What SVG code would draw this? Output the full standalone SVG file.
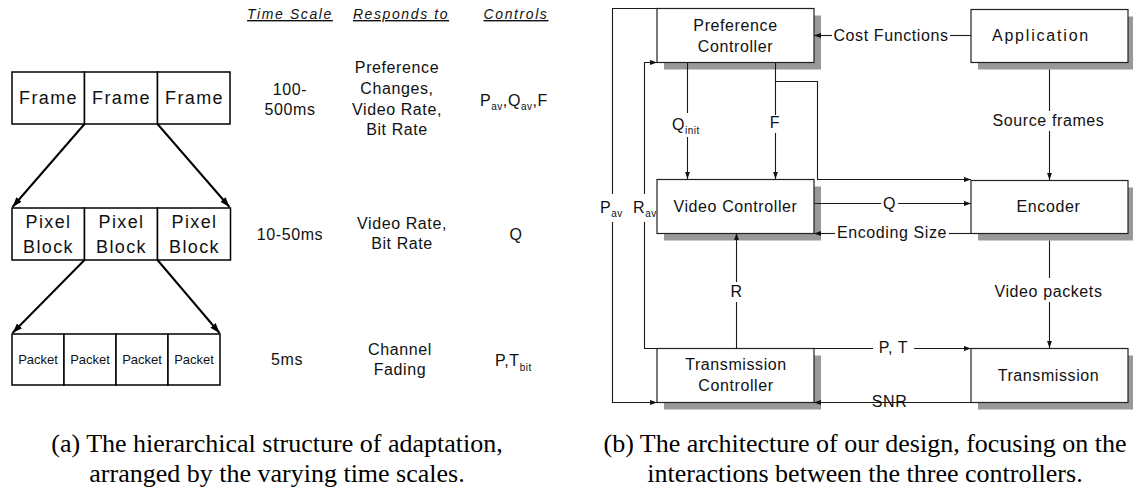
<svg xmlns="http://www.w3.org/2000/svg" width="1133" height="490" viewBox="0 0 1133 490">
  <style>
    .sans { font-family: "Liberation Sans", Arial, Helvetica, sans-serif; fill: #111; }
    .big { font-size: 18px; letter-spacing: 1.4px; text-anchor: middle; }
    .pk { font-size: 13px; text-anchor: middle; }
    .hd { font-size: 14px; font-style: italic; letter-spacing: 1.6px; text-anchor: middle; text-decoration: underline; }
    .row { font-size: 16px; letter-spacing: 0.6px; text-anchor: middle; }
    .rowl { font-size: 16px; letter-spacing: 0.6px; }
    .sub { font-size: 10px; letter-spacing: 0.5px; }
    .cap { font-family: "Liberation Serif", "Times New Roman", serif; font-size: 26px; fill: #000; text-anchor: middle; }
    .lbox { fill: #fff; stroke: #000; stroke-width: 1.5; }
    .rbox { fill: #fff; stroke: #222; stroke-width: 1.2; }
    .shadow { fill: #999; }
    .thick { fill: none; stroke: #000; stroke-width: 2; }
    .conn { fill: none; stroke: #1a1a1a; stroke-width: 1.1; }
  </style>
  <defs>
    <marker id="ah" markerUnits="userSpaceOnUse" markerWidth="8" markerHeight="6" refX="7" refY="3" orient="auto">
      <path d="M0,0.6 L7,3 L0,5.4 z" fill="#111"/>
    </marker>
    <marker id="ahL" markerUnits="userSpaceOnUse" markerWidth="11" markerHeight="8" refX="10" refY="4" orient="auto">
      <path d="M0,0.5 L10,4 L0,7.5 z" fill="#000"/>
    </marker>
  </defs>

  <rect width="1133" height="490" fill="#fff"/>

  <!-- (a) hierarchy of adaptation -->
  <g id="frames">
    <rect class="lbox" x="12" y="72" width="72.5" height="52"/>
    <rect class="lbox" x="84.5" y="72" width="73" height="52"/>
    <rect class="lbox" x="157.5" y="72" width="72.5" height="52"/>
    <text class="sans big" x="48.5" y="104">Frame</text>
    <text class="sans big" x="121.5" y="104">Frame</text>
    <text class="sans big" x="194.5" y="104">Frame</text>
  </g>
  <g id="pixel-blocks">
    <rect class="lbox" x="12" y="208" width="72.5" height="52"/>
    <rect class="lbox" x="84.5" y="208" width="73" height="52"/>
    <rect class="lbox" x="157.5" y="208" width="73" height="52"/>
    <text class="sans big" x="48.5" y="228">Pixel</text>
    <text class="sans big" x="48.5" y="253">Block</text>
    <text class="sans big" x="121.5" y="228">Pixel</text>
    <text class="sans big" x="121.5" y="253">Block</text>
    <text class="sans big" x="194.5" y="228">Pixel</text>
    <text class="sans big" x="194.5" y="253">Block</text>
  </g>
  <g id="packets">
    <rect class="lbox" x="12" y="334" width="52" height="51"/>
    <rect class="lbox" x="64" y="334" width="52" height="51"/>
    <rect class="lbox" x="116" y="334" width="52" height="51"/>
    <rect class="lbox" x="168" y="334" width="52" height="51"/>
    <text class="sans pk" x="38" y="364">Packet</text>
    <text class="sans pk" x="90" y="364">Packet</text>
    <text class="sans pk" x="142" y="364">Packet</text>
    <text class="sans pk" x="194" y="364">Packet</text>
  </g>
  <g id="hierarchy-connectors">
    <line class="thick" x1="84.5" y1="124" x2="12.5" y2="207" marker-end="url(#ahL)"/>
    <line class="thick" x1="157.5" y1="124" x2="229.5" y2="207" marker-end="url(#ahL)"/>
    <line class="thick" x1="84.5" y1="260" x2="12.5" y2="333" marker-end="url(#ahL)"/>
    <line class="thick" x1="157.5" y1="260" x2="219.5" y2="333" marker-end="url(#ahL)"/>
  </g>

  <g id="table">
    <text class="sans hd" x="290" y="19">Time Scale</text>
    <text class="sans hd" x="401" y="19">Responds to</text>
    <text class="sans hd" x="516" y="19">Controls</text>

    <text class="sans row" x="290" y="95">100-</text>
    <text class="sans row" x="290" y="115">500ms</text>
    <text class="sans row" x="397" y="73">Preference</text>
    <text class="sans row" x="397" y="94">Changes,</text>
    <text class="sans row" x="397" y="115">Video Rate,</text>
    <text class="sans row" x="397" y="135">Bit Rate</text>
    <text class="sans rowl" x="480" y="106">P<tspan class="sub" dy="4">av</tspan><tspan dy="-4">,Q</tspan><tspan class="sub" dy="4">av</tspan><tspan dy="-4">,F</tspan></text>

    <text class="sans row" x="290" y="240">10-50ms</text>
    <text class="sans row" x="402" y="229">Video Rate,</text>
    <text class="sans row" x="402" y="249">Bit Rate</text>
    <text class="sans row" x="516" y="240">Q</text>

    <text class="sans row" x="287" y="365">5ms</text>
    <text class="sans row" x="400" y="355">Channel</text>
    <text class="sans row" x="400" y="375">Fading</text>
    <text class="sans rowl" x="495" y="366">P,T<tspan class="sub" dy="5">bit</tspan></text>
  </g>

  <!-- (b) controller architecture -->
  <g id="shadows">
    <rect class="shadow" x="664" y="15.5" width="157" height="54"/>
    <rect class="shadow" x="978" y="16.5" width="157" height="53"/>
    <rect class="shadow" x="664" y="186.5" width="157" height="54"/>
    <rect class="shadow" x="978" y="187.5" width="157" height="53"/>
    <rect class="shadow" x="664" y="355.5" width="157" height="54"/>
    <rect class="shadow" x="978" y="355.5" width="157" height="54"/>
  </g>

  <g id="connectors">
    <!-- P_av: preference controller to transmission controller -->
    <path class="conn" d="M657,8.5 H612.5 V194"/>
    <path class="conn" d="M612.5,222 V402.5 H657" marker-end="url(#ah)"/>
    <!-- R_av: transmission controller to preference controller -->
    <path class="conn" d="M657,348.5 H644.5 V222"/>
    <path class="conn" d="M644.5,194 V62.5 H657" marker-end="url(#ah)"/>
    <!-- Q_init and F -->
    <path class="conn" d="M687.5,62 V113"/>
    <path class="conn" d="M687.5,137 V179" marker-end="url(#ah)"/>
    <path class="conn" d="M775.5,62 V115"/>
    <path class="conn" d="M775.5,133 V179" marker-end="url(#ah)"/>
    <path class="conn" d="M775.5,81.5 H817.5 V179.5 H971" marker-end="url(#ah)"/>
    <!-- Cost functions -->
    <path class="conn" d="M971,35.5 H950"/>
    <path class="conn" d="M832,35.5 H814" marker-end="url(#ah)"/>
    <!-- Source frames -->
    <path class="conn" d="M1049.5,69.5 V111"/>
    <path class="conn" d="M1049.5,131 V180" marker-end="url(#ah)"/>
    <!-- Q -->
    <path class="conn" d="M814,203.5 H881"/>
    <path class="conn" d="M898,203.5 H971" marker-end="url(#ah)"/>
    <!-- Encoding size -->
    <path class="conn" d="M971,233.5 H949"/>
    <path class="conn" d="M835,233.5 H814" marker-end="url(#ah)"/>
    <!-- R -->
    <path class="conn" d="M736.5,348 V302"/>
    <path class="conn" d="M736.5,282 V233" marker-end="url(#ah)"/>
    <!-- Video packets -->
    <path class="conn" d="M1049.5,240.5 V278"/>
    <path class="conn" d="M1049.5,302 V348" marker-end="url(#ah)"/>
    <!-- P, T -->
    <path class="conn" d="M657,348.5 H873"/>
    <path class="conn" d="M914,348.5 H971" marker-end="url(#ah)"/>
    <!-- SNR -->
    <path class="conn" d="M971,402.5 H874"/>
    <path class="conn" d="M905,402.5 H814" marker-end="url(#ah)"/>
  </g>

  <g id="preference-controller">
    <rect class="rbox" x="657" y="8.5" width="157" height="54"/>
    <text class="sans row" x="735.5" y="31">Preference</text>
    <text class="sans row" x="735.5" y="52">Controller</text>
  </g>
  <g id="application">
    <rect class="rbox" x="971" y="9.5" width="157" height="53"/>
    <text class="sans row" x="1041" y="41" style="letter-spacing:1.8px">Application</text>
  </g>
  <g id="video-controller">
    <rect class="rbox" x="657" y="179.5" width="157" height="54"/>
    <text class="sans row" x="735.5" y="212">Video Controller</text>
  </g>
  <g id="encoder">
    <rect class="rbox" x="971" y="180.5" width="157" height="53"/>
    <text class="sans row" x="1048.5" y="212">Encoder</text>
  </g>
  <g id="transmission-controller">
    <rect class="rbox" x="657" y="348.5" width="157" height="54"/>
    <text class="sans row" x="736" y="370">Transmission</text>
    <text class="sans row" x="736" y="391">Controller</text>
  </g>
  <g id="transmission">
    <rect class="rbox" x="971" y="348.5" width="157" height="54"/>
    <text class="sans row" x="1048.5" y="381">Transmission</text>
  </g>

  <g id="connector-labels">
    <text class="sans row" x="891" y="41">Cost Functions</text>
    <text class="sans rowl" x="672" y="130">Q<tspan class="sub" dy="4">init</tspan></text>
    <text class="sans row" x="775" y="128">F</text>
    <text class="sans row" x="1048.5" y="126">Source frames</text>
    <text class="sans rowl" x="600" y="213">P<tspan class="sub" dy="4">av</tspan></text>
    <text class="sans rowl" x="633" y="213">R<tspan class="sub" dy="4">av</tspan></text>
    <text class="sans row" x="889.5" y="209">Q</text>
    <text class="sans row" x="892" y="238">Encoding Size</text>
    <text class="sans row" x="736.5" y="297">R</text>
    <text class="sans row" x="1048.5" y="297">Video packets</text>
    <text class="sans row" x="893.5" y="353">P, T</text>
    <text class="sans row" x="889.5" y="407">SNR</text>
  </g>

  <g id="captions">
    <text class="cap" x="277" y="452">(a) The hierarchical structure of adaptation,</text>
    <text class="cap" x="277" y="482">arranged by the varying time scales.</text>
    <text class="cap" x="865" y="452">(b) The architecture of our design, focusing on the</text>
    <text class="cap" x="865" y="482">interactions between the three controllers.</text>
  </g>
</svg>
